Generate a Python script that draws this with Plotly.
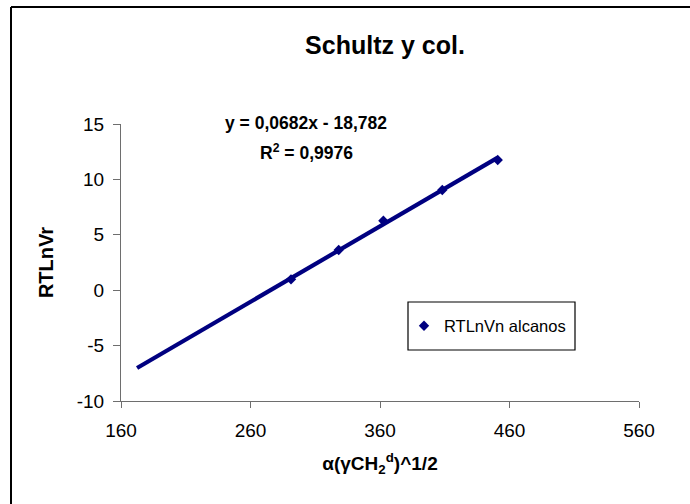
import plotly.graph_objects as go

# ---- data ----
x_vals = [291.3, 328.1, 362.6, 408.1, 450.9]
y_vals = [0.98, 3.63, 6.27, 9.04, 11.75]
series_name = "RTLnVn alcanos"
trend_slope = 0.0682
trend_intercept = -18.782
trend_x = [172.4, 450.9]          # trendline with backward forecast
x_ticks = [160, 260, 360, 460, 560]
y_ticks = [-10, -5, 0, 5, 10, 15]
y_tick_labels = ["-10", "-5", "0", "5", "10", "15"]
title_text = "Schultz y col."
eq_text = "y = 0,0682x - 18,782"
r2_text = "R<sup>2</sup> = 0,9976"

trend_y = [trend_slope * v + trend_intercept for v in trend_x]

W, H = 690, 504
L, R, T, B = 121, 51, 124, 103
PW, PH = W - L - R, H - T - B


def px(xp):
    return (xp - L) / PW


def py(yp):
    return (H - B - yp) / PH


FONT = "Liberation Sans, Arial, sans-serif"
NAVY = "#000080"

fig = go.Figure()
fig.add_trace(go.Scatter(x=trend_x, y=trend_y, mode="lines",
                         line=dict(color=NAVY, width=4.2),
                         showlegend=False, hoverinfo="skip"))
fig.add_trace(go.Scatter(x=x_vals, y=y_vals, mode="markers", name=series_name,
                         marker=dict(symbol="diamond", size=8, color=NAVY)))

axis_common = dict(showgrid=False, zeroline=False, showline=True,
                   linecolor="#6e6e6e", linewidth=1.2,
                   ticks="outside", tickcolor="#6e6e6e", tickwidth=1.2,
                   tickfont=dict(family=FONT, size=19, color="#000"))

fig.update_layout(
    width=W, height=H,
    margin=dict(l=L, r=R, t=T, b=B),
    paper_bgcolor="white", plot_bgcolor="white",
    font=dict(family=FONT, color="#000"),
    title=dict(text="<b>" + title_text + "</b>", x=385 / W, xanchor="center",
               y=1 - 45 / H, yanchor="middle",
               font=dict(family=FONT, size=25, color="#000")),
    xaxis=dict(range=[160, 560], tickvals=x_ticks, ticklen=6,
               ticklabelstandoff=6,
               title=dict(text="<b>α(γCH<sub>2</sub><sup>d</sup>)^1/2</b>",
                          font=dict(family=FONT, size=19), standoff=16),
               **axis_common),
    yaxis=dict(range=[-10, 15], tickvals=y_ticks, ticktext=y_tick_labels,
               ticklen=7, ticklabelstandoff=5,
               title=dict(text="<b>RTLnVr</b>",
                          font=dict(family=FONT, size=20), standoff=17),
               **axis_common),
    legend=dict(x=px(404), y=py(326), xanchor="left", yanchor="middle",
                bgcolor="rgba(0,0,0,0)", borderwidth=0,
                font=dict(family=FONT, size=16.5, color="#000")),
    annotations=[
        dict(text="<b>" + eq_text + "</b>", xref="paper", yref="paper",
             x=px(306), y=py(123), xanchor="center", yanchor="middle",
             showarrow=False, font=dict(family=FONT, size=17.5, color="#000")),
        dict(text="<b>" + r2_text + "</b>", xref="paper", yref="paper",
             x=px(306), y=py(152), xanchor="center", yanchor="middle",
             showarrow=False, font=dict(family=FONT, size=17.5, color="#000")),
    ],
    shapes=[
        dict(type="rect", xref="paper", yref="paper",
             x0=px(408), x1=px(575), y0=py(350), y1=py(302),
             line=dict(color="#000", width=1.2), fillcolor="rgba(0,0,0,0)"),
        dict(type="line", xref="paper", yref="paper",
             x0=px(11), x1=px(11), y0=py(7), y1=py(H + 5),
             line=dict(color="#000", width=2)),
        dict(type="line", xref="paper", yref="paper",
             x0=px(11), x1=px(W + 5), y0=py(7), y1=py(7),
             line=dict(color="#000", width=2)),
    ],
)

fig.write_html("out.html")
